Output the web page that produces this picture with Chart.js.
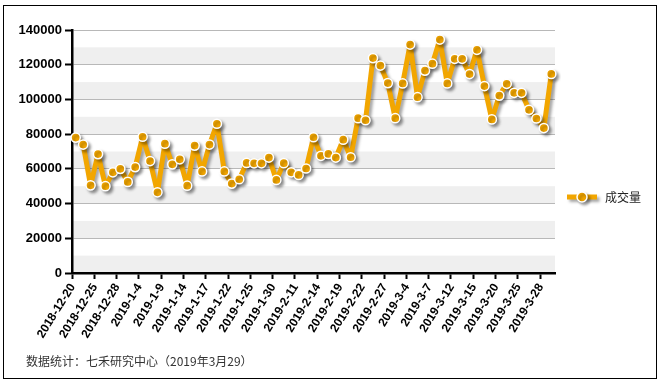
<!DOCTYPE html>
<html>
<head>
<meta charset="utf-8">
<script src="https://cdn.jsdelivr.net/npm/chart.js@4/dist/chart.umd.min.js"></script>
<style>
  html, body { margin: 0; padding: 0; background: #fff; }
  #wrap { position: relative; width: 660px; height: 386px; }
  #frame { position: absolute; left: 3px; top: 5px; width: 652px; height: 372px; border: 1px solid #000; }
  #note { position: absolute; left: 26px; top: 352px; font: 12px "Noto Sans CJK SC", sans-serif; color: #333; }
  canvas { position: absolute; left: 0; top: 0; }
</style>
</head>
<body>
<div id="wrap">
  <div id="frame"></div>
  <canvas id="chart" width="660" height="386"></canvas>
  <div id="note">数据统计：七禾研究中心（2019年3月29）</div>
</div>
<script>
// trading days
const dates = [
  '2018-12-20', '2018-12-21', '2018-12-24', '2018-12-25', '2018-12-26', '2018-12-27', '2018-12-28',
  '2019-1-2', '2019-1-3', '2019-1-4', '2019-1-7', '2019-1-8', '2019-1-9', '2019-1-10', '2019-1-11',
  '2019-1-14', '2019-1-15', '2019-1-16', '2019-1-17', '2019-1-18', '2019-1-21', '2019-1-22', '2019-1-23',
  '2019-1-24', '2019-1-25', '2019-1-28', '2019-1-29', '2019-1-30', '2019-1-31', '2019-2-1',
  '2019-2-11', '2019-2-12', '2019-2-13', '2019-2-14', '2019-2-15', '2019-2-18', '2019-2-19', '2019-2-20',
  '2019-2-21', '2019-2-22', '2019-2-25', '2019-2-26', '2019-2-27', '2019-2-28', '2019-3-1',
  '2019-3-4', '2019-3-5', '2019-3-6', '2019-3-7', '2019-3-8', '2019-3-11', '2019-3-12', '2019-3-13',
  '2019-3-14', '2019-3-15', '2019-3-18', '2019-3-19', '2019-3-20', '2019-3-21', '2019-3-22',
  '2019-3-25', '2019-3-26', '2019-3-27', '2019-3-28', '2019-3-29'
];

const volume = [
  78000, 74000, 50500, 68500, 50000, 58000, 60000, 52500, 61000, 78500,
  64500, 46500, 74500, 62600, 65500, 50300, 73400, 58500, 74000, 86000,
  58500, 51500, 54000, 63400, 63200, 63200, 66500, 53600, 63300, 58000,
  56500, 60200, 78200, 67500, 68600, 66500, 76800, 66700, 89200, 88000,
  123800, 119500, 109400, 89200, 109200, 131600, 101300, 116600, 120600, 134500,
  109200, 123400, 123400, 114600, 128600, 107700, 88500, 102200, 109000, 103800,
  103800, 94000, 89000, 83500, 114700
];

const seriesName = '成交量';
const yTicks = [0, 20000, 40000, 60000, 80000, 100000, 120000, 140000];

const orange = '#f2a600';

const bandsPlugin = {
  id: 'bands',
  beforeDraw(chart) {
    const { ctx, chartArea, scales } = chart;
    ctx.save();
    ctx.fillStyle = '#efefef';
    for (let v = 0; v < 140000; v += 20000) {
      const y1 = scales.y.getPixelForValue(v);
      const y2 = scales.y.getPixelForValue(v + 10000);
      ctx.fillRect(chartArea.left, y2, chartArea.right - chartArea.left, y1 - y2);
    }
    ctx.restore();
  }
};

const shadowPlugin = {
  id: 'shadow',
  beforeDatasetsDraw(chart) {
    const ctx = chart.ctx;
    ctx.save();
    ctx.shadowColor = 'rgba(0,0,0,0.35)';
    ctx.shadowBlur = 3;
    ctx.shadowOffsetX = 2.5;
    ctx.shadowOffsetY = 2.5;
  },
  afterDatasetsDraw(chart) {
    chart.ctx.restore();
  }
};

// legend at the right, drawn by hand so it sits where the original has it
const legendPlugin = {
  id: 'sideLegend',
  afterDraw(chart) {
    const { ctx, chartArea } = chart;
    const x = chartArea.right + 12;
    const y = 197;
    ctx.save();
    ctx.shadowColor = 'rgba(0,0,0,0.35)';
    ctx.shadowBlur = 3;
    ctx.shadowOffsetX = 2.5;
    ctx.shadowOffsetY = 2.5;
    ctx.strokeStyle = orange;
    ctx.lineWidth = 5;
    ctx.beginPath();
    ctx.moveTo(x, y);
    ctx.lineTo(x + 30, y);
    ctx.stroke();
    ctx.beginPath();
    ctx.arc(x + 15, y, 5, 0, Math.PI * 2);
    ctx.fillStyle = orange;
    ctx.fill();
    ctx.lineWidth = 1.5;
    ctx.strokeStyle = '#fff';
    ctx.stroke();
    ctx.restore();
    ctx.save();
    ctx.font = '12px "Noto Sans CJK SC", sans-serif';
    ctx.fillStyle = '#222';
    ctx.textBaseline = 'middle';
    ctx.fillText(chart.data.datasets[0].label, x + 38, y);
    ctx.restore();
  }
};

new Chart(document.getElementById('chart'), {
  type: 'line',
  data: {
    labels: dates,
    datasets: [{
      label: seriesName,
      data: volume,
      borderColor: orange,
      borderWidth: 5,
      borderJoinStyle: 'round',
      borderCapStyle: 'round',
      backgroundColor: orange,
      pointBackgroundColor: orange,
      pointBorderColor: '#fff',
      pointBorderWidth: 1.5,
      pointRadius: 4.6,
      tension: 0
    }]
  },
  options: {
    responsive: false,
    animation: false,
    layout: {
      padding: { left: 17, right: 105, top: 30, bottom: 43 }
    },
    plugins: {
      legend: { display: false },
      tooltip: { enabled: false }
    },
    scales: {
      x: {
        type: 'category',
        offset: true,
        afterFit(scale) { scale.height = 70; },
        grid: {
          offset: true,
          drawOnChartArea: false,
          tickLength: 6,
          tickWidth: 2,
          tickColor: ctx => (ctx.index % 3 === 0 ? '#000' : 'rgba(0,0,0,0)')
        },
        border: { color: '#000', width: 2.5 },
        ticks: {
          autoSkip: false,
          minRotation: 58,
          maxRotation: 58,
          padding: 2,
          labelOffset: -3,
          color: '#000',
          font: { family: '"Liberation Sans", Arial, sans-serif', size: 12, weight: 'bold' },
          callback: function(value, index) {
            return index % 3 === 0 ? this.getLabelForValue(value) : '';
          }
        }
      },
      y: {
        min: 0,
        max: 140000,
        afterFit(scale) { scale.width = 55; },
        grid: {
          color: '#b8b8b8',
          lineWidth: 1,
          tickLength: 7,
          tickWidth: 2,
          tickColor: ctx => (yTicks.includes(ctx.tick.value) ? '#000' : 'rgba(0,0,0,0)')
        },
        border: { color: '#000', width: 2.5 },
        ticks: {
          stepSize: 10000,
          padding: 3,
          color: '#000',
          font: { family: '"Liberation Sans", Arial, sans-serif', size: 13, weight: 'bold' },
          callback: value => (yTicks.includes(value) ? value : '')
        }
      }
    }
  },
  plugins: [bandsPlugin, shadowPlugin, legendPlugin]
});
</script>
</body>
</html>
